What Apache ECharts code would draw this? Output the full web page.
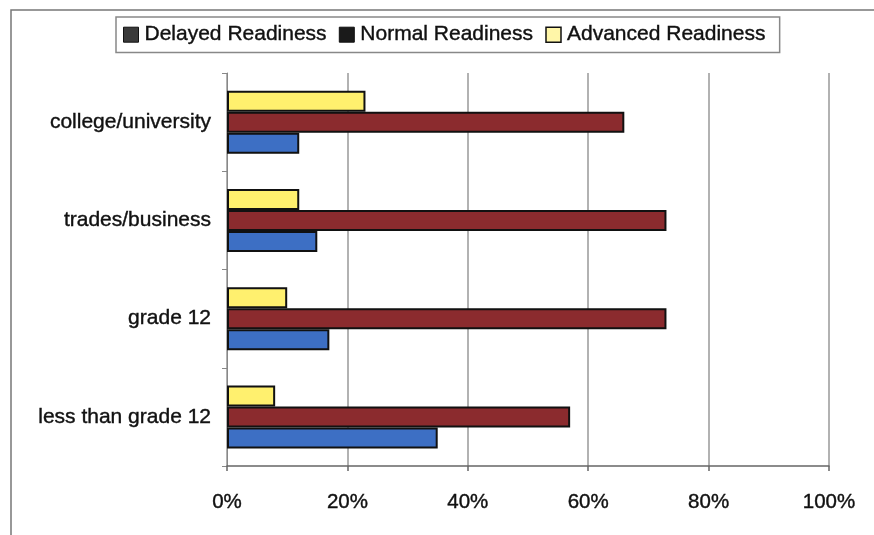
<!DOCTYPE html>
<html>
<head>
<meta charset="utf-8">
<script src="https://cdn.jsdelivr.net/npm/echarts@6/dist/echarts.min.js"></script>
<style>
  html, body { margin: 0; padding: 0; background: #fff; }
  #chart { width: 874px; height: 535px; }
</style>
</head>
<body>
<div id="chart"></div>
<script>
// categories bottom -> top (category axis on y starts at the bottom)
const categories = ['less than grade 12', 'grade 12', 'trades/business', 'college/university'];
const delayed = [35, 17, 15, 12];
const normal = [57, 73, 73, 66];
const advanced = [8, 10, 12, 23];
const xTicks = [0, 20, 40, 60, 80, 100];

const chart = echarts.init(document.getElementById('chart'));

const barBorder = { borderColor: '#111', borderWidth: 2 };
const colors = { delayed: '#3d6fc4', normal: '#8b2b2e', advanced: '#fff06e' };
const labelInk = { color: '#111', textBorderColor: '#111', textBorderWidth: 0.4 };

const option = {
  animation: false,
  backgroundColor: '#fff',
  textStyle: { fontFamily: 'Liberation Sans, Arial, sans-serif' },
  graphic: [{
    type: 'rect',
    shape: { x: 11, y: 10, width: 900, height: 560 },
    style: { fill: 'none', stroke: '#777', lineWidth: 1.5 },
    silent: true
  }],
  legend: {
    left: 116,
    top: 17,
    padding: [7, 14, 7, 7],
    itemGap: 12,
    itemWidth: 15,
    itemHeight: 15,
    borderColor: '#888',
    borderWidth: 1.5,
    textStyle: Object.assign({ fontSize: 21, padding: [0, 0, 0, 1] }, labelInk),
    data: [
      { name: 'Delayed Readiness', icon: 'rect', itemStyle: { color: '#3a3a3a', borderColor: '#111', borderWidth: 1 } },
      { name: 'Normal Readiness', icon: 'rect', itemStyle: { color: '#1a1a1a', borderColor: '#111', borderWidth: 1 } },
      { name: 'Advanced Readiness', icon: 'rect', itemStyle: { color: '#fff6a8', borderColor: '#111', borderWidth: 1.5 } }
    ]
  },
  grid: { left: 227, top: 73, width: 602, height: 393 },
  xAxis: {
    type: 'value',
    min: 0,
    max: 100,
    interval: 20,
    axisLine: { show: true, lineStyle: { color: '#666', width: 1.5 } },
    axisTick: { show: true, length: 5, inside: false, lineStyle: { color: '#666', width: 1.5 } },
    axisLabel: Object.assign({
      margin: 26,
      fontSize: 20.5,
      formatter: (v) => xTicks.includes(v) ? v + '%' : ''
    }, labelInk),
    splitLine: { show: true, lineStyle: { color: '#999', width: 1.5 } }
  },
  yAxis: {
    type: 'category',
    data: categories,
    axisLine: { show: true, lineStyle: { color: '#888', width: 1 } },
    axisTick: { show: true, length: 5, lineStyle: { color: '#888' } },
    axisLabel: Object.assign({ margin: 16, fontSize: 21 }, labelInk)
  },
  // first series is drawn at the top of each band, so go Advanced -> Delayed
  series: [
    {
      name: 'Advanced Readiness',
      type: 'bar',
      data: advanced,
      barWidth: 21,
      barGap: '0%',
      itemStyle: Object.assign({ color: colors.advanced }, barBorder)
    },
    {
      name: 'Normal Readiness',
      type: 'bar',
      data: normal,
      barWidth: 21,
      barGap: '0%',
      itemStyle: Object.assign({ color: colors.normal }, barBorder)
    },
    {
      name: 'Delayed Readiness',
      type: 'bar',
      data: delayed,
      barWidth: 21,
      barGap: '0%',
      itemStyle: Object.assign({ color: colors.delayed }, barBorder)
    }
  ]
};

chart.setOption(option);
</script>
</body>
</html>
